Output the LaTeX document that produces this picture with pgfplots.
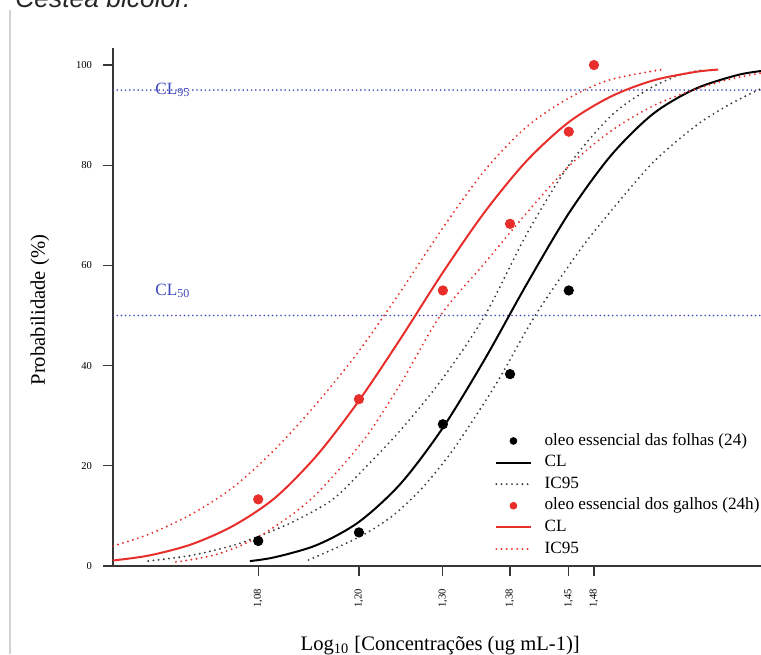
\documentclass[border=0pt]{standalone}
\usepackage{pgfplots}
\pgfplotsset{compat=1.18}
\usepackage{fontspec}
\setmainfont{Liberation Serif}
\newfontfamily\sansfam{Liberation Sans}
\definecolor{myred}{RGB}{232,46,42}
\definecolor{myblue}{RGB}{62,72,190}
\definecolor{axgray}{RGB}{55,55,55}
\definecolor{dotgray}{RGB}{60,60,60}

\begin{document}
\begin{tikzpicture}
\useasboundingbox (0pt,0pt) rectangle (380.5pt,327pt);
\clip (0pt,0pt) rectangle (380.5pt,327pt);
\draw[black!18, line width=0.6pt] (5pt,0pt) -- (5pt,322pt);
\node[anchor=base west, font=\sansfam\itshape\fontsize{13.2}{15}\selectfont, text=black!85, inner sep=0pt] at (7.5pt,323.2pt) {Cestea bicolor.};
\begin{axis}[
  at={(56.5pt,44pt)}, anchor=south west,
  scale only axis, width=324pt, height=259pt,
  xmin=0.907, xmax=1.679, ymin=0, ymax=103.4,
  axis x line*=bottom, axis y line*=left,
  axis line style={axgray, line width=0.7pt},
  tick style={axgray, line width=0.6pt},
  tick align=outside, major tick length=5pt,
  xtick={1.08,1.20,1.30,1.38,1.45,1.48},
  xticklabels={{1,08},{1,20},{1,30},{1,38},{1,45},{1,48}},
  ytick={0,20,40,60,80,100},
  /pgf/number format/assume math mode=true,
  xticklabel style={rotate=90, anchor=east, font=\fontsize{5.3}{6}\selectfont},
  yticklabel style={font=\fontsize{5.3}{6}\selectfont},
  xticklabel shift=3pt, yticklabel shift=2pt,
  xlabel={Log\textsubscript{10} [Concentrações (ug mL-1)]},
  xlabel style={at={(axis description cs:0.505,-0.1622)}, anchor=base, font=\fontsize{10.3}{12}\selectfont},
  ylabel={Probabilidade (\%)},
  ylabel style={at={(axis description cs:-0.1127,0.494)}, anchor=center, font=\fontsize{10.3}{12}\selectfont},
  legend cell align=left,
  legend style={draw=none, fill=none, at={(axis cs:1.362,27.0)}, anchor=north west,
    font=\fontsize{8.6}{10}\selectfont, inner sep=0pt, row sep=1pt,
    nodes={inner sep=1pt, text height=6pt, text depth=1.8pt},
    /tikz/every odd column/.append style={column sep=5.5pt}},
  cidot/.style={line width=1.05pt, line cap=round, dash pattern=on 0pt off 2.6pt},
]
% blue reference lines
\addplot[myblue, line width=0.9pt, line cap=round, dash pattern=on 0pt off 2.1pt, forget plot] coordinates {(0.907,95) (1.679,95)};
\addplot[myblue, line width=0.9pt, line cap=round, dash pattern=on 0pt off 2.1pt, forget plot] coordinates {(0.907,50) (1.679,50)};

% black series (folhas)
\addplot[only marks, mark=*, mark size=2.35pt, black,
  legend image code/.code={\fill[black] (0.3cm,0cm) circle (1.7pt);}]
  coordinates {(1.08,5.0) (1.20,6.7) (1.30,28.3) (1.38,38.3) (1.45,55.0)};
\addlegendentry{oleo essencial das folhas (24)}
\addplot[black, line width=1pt, smooth] coordinates {
 (1.07,0.98) (1.10,1.76) (1.15,4.2) (1.20,8.8) (1.25,16.5) (1.30,27.6) (1.35,41.3)
 (1.40,56.3) (1.45,70.4) (1.50,81.9) (1.55,90.2) (1.60,95.2) (1.65,97.96) (1.679,98.8)};
\addlegendentry{CL}
\addplot[dotgray, cidot, smooth] coordinates {
 (0.949,1.0) (1.00,2.1) (1.05,4.1) (1.08,5.9) (1.12,8.7) (1.168,13.2) (1.205,19.2)
 (1.25,27.2) (1.30,37.5) (1.35,50.0) (1.40,66.3) (1.45,80.0) (1.50,89.8) (1.543,95.0)
 (1.58,97.9) (1.609,99.0)};
\addlegendentry{IC95}
\addplot[dotgray, cidot, smooth, forget plot] coordinates {
 (1.14,1.2) (1.17,3.4) (1.205,6.2) (1.24,10.0) (1.275,15.5) (1.31,22.7) (1.344,31.2)
 (1.37,38.2) (1.41,50.0) (1.463,63.0) (1.50,70.8) (1.55,80.5) (1.60,87.7) (1.64,92.0) (1.679,95.3)};

% red series (galhos)
\addplot[only marks, mark=*, mark size=2.35pt, myred,
  legend image code/.code={\fill[myred] (0.3cm,0cm) circle (1.7pt);}]
  coordinates {(1.08,13.3) (1.20,33.3) (1.30,55.0) (1.38,68.3) (1.45,86.7) (1.48,100.0)};
\addlegendentry{oleo essencial dos galhos (24h)}
\addplot[myred, line width=1pt, smooth] coordinates {
 (0.907,1.1) (0.95,2.1) (1.00,4.3) (1.05,8.0) (1.10,13.6) (1.15,22.1) (1.20,33.0)
 (1.25,45.5) (1.30,58.6) (1.35,70.7) (1.40,80.9) (1.45,88.6) (1.50,93.7) (1.55,96.9)
 (1.60,98.6) (1.628,99.1)};
\addlegendentry{CL}
\addplot[myred, cidot, smooth] coordinates {
 (0.907,4.0) (0.95,6.35) (1.00,10.3) (1.05,15.7) (1.10,23.3) (1.15,32.5) (1.20,42.9)
 (1.25,54.9) (1.30,67.5) (1.35,79.0) (1.40,87.7) (1.45,93.4) (1.50,97.1) (1.565,99.2)};
\addlegendentry{IC95}
\addplot[myred, cidot, smooth, forget plot] coordinates {
 (0.982,0.8) (1.03,2.3) (1.08,5.8) (1.142,13.2) (1.205,25.0) (1.25,36.5) (1.297,50.0)
 (1.35,60.5) (1.40,70.5) (1.45,79.8) (1.50,86.8) (1.55,91.8) (1.598,95.0) (1.64,97.1) (1.679,98.4)};

\node[anchor=west, text=myblue, font=\fontsize{8.6}{10}\selectfont, inner sep=0pt] at (axis cs:0.957,95) {CL\textsubscript{95}};
\node[anchor=west, text=myblue, font=\fontsize{8.6}{10}\selectfont, inner sep=0pt] at (axis cs:0.957,54.9) {CL\textsubscript{50}};
\end{axis}
\end{tikzpicture}
\end{document}
